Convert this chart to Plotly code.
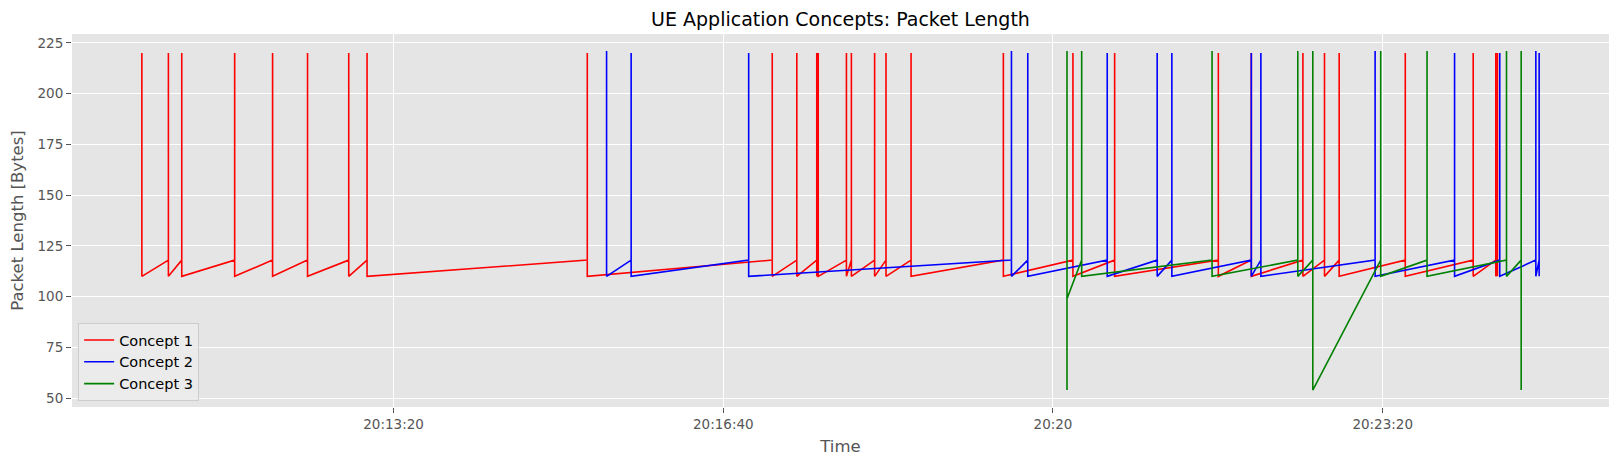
"""UE application concepts: packet length over time (three concepts)."""

import pandas as pd
import plotly.graph_objects as go

# ─── Data ────────────────────────────────────────────────────────────────────
DAY = "2019-05-01 "

RED_TIME = [
    "20:10:47.3", "20:10:47.3",
    "20:11:03.4", "20:11:03.4", "20:11:03.4",
    "20:11:11.5", "20:11:11.5", "20:11:11.5",
    "20:11:43.6", "20:11:43.6", "20:11:43.6",
    "20:12:06.6", "20:12:06.6", "20:12:06.6",
    "20:12:27.8", "20:12:27.8", "20:12:27.8",
    "20:12:52.8", "20:12:52.8", "20:12:52.8",
    "20:13:03.9", "20:13:03.9", "20:13:03.9",
    "20:15:17.5", "20:15:17.5", "20:15:17.5",
    "20:17:09.7", "20:17:09.7", "20:17:09.7",
    "20:17:24.6", "20:17:24.6", "20:17:24.6",
    "20:17:36.7", "20:17:36.7", "20:17:36.7",
    "20:17:37.6", "20:17:37.6", "20:17:37.6",
    "20:17:54.7", "20:17:54.7", "20:17:54.7",
    "20:17:57.7", "20:17:57.7", "20:17:57.7",
    "20:18:11.8", "20:18:11.8", "20:18:11.8",
    "20:18:18.7", "20:18:18.7", "20:18:18.7",
    "20:18:33.9", "20:18:33.9", "20:18:33.9",
    "20:19:29.9", "20:19:29.9", "20:19:29.9",
    "20:20:12.1", "20:20:12.1", "20:20:12.1",
    "20:20:37.4", "20:20:37.4", "20:20:37.4",
    "20:21:40.3", "20:21:40.3", "20:21:40.3",
    "20:22:00.3", "20:22:00.3", "20:22:00.3",
    "20:22:31.6", "20:22:31.6", "20:22:31.6",
    "20:22:44.7", "20:22:44.7", "20:22:44.7",
    "20:22:53.6", "20:22:53.6", "20:22:53.6",
    "20:23:33.7", "20:23:33.7", "20:23:33.7",
    "20:24:14.9", "20:24:14.9", "20:24:14.9",
    "20:24:28.6", "20:24:28.6", "20:24:28.6",
    "20:24:29.6", "20:24:29.6", "20:24:29.6",
    "20:24:42.1", "20:24:42.1", "20:24:42.1",
]
RED_LEN = [220, 110] + [118, 220, 110] * 29

BLUE_TIME = [
    "20:15:29.2", "20:15:29.2",
    "20:15:44.1", "20:15:44.1", "20:15:44.1",
    "20:16:55.4", "20:16:55.4", "20:16:55.4",
    "20:19:34.8", "20:19:34.8", "20:19:34.8",
    "20:19:44.7", "20:19:44.7", "20:19:44.7",
    "20:20:32.9", "20:20:32.9", "20:20:32.9",
    "20:21:03.2", "20:21:03.2", "20:21:03.2",
    "20:21:12.1", "20:21:12.1", "20:21:12.1",
    "20:22:00.3", "20:22:00.3", "20:22:00.3",
    "20:22:06.1", "20:22:06.1", "20:22:06.1",
    "20:23:15.4", "20:23:15.4", "20:23:15.4",
    "20:24:03.6", "20:24:03.6", "20:24:03.6",
    "20:24:31.0", "20:24:31.0", "20:24:31.0",
    "20:24:52.9", "20:24:52.9", "20:24:52.9",
    "20:24:54.9", "20:24:54.9", "20:24:54.9",
]
BLUE_LEN = [
    221, 110,
    118, 220, 110,
    118, 220, 110,
    118, 221, 110,
    118, 220, 110,
    118, 220, 110,
    118, 220, 110,
    118, 220, 110,
    118, 220, 110,
    118, 220, 110,
    118, 221, 110,
    118, 220, 110,
    118, 220, 110,
    118, 221, 110,
    118, 220, 110,
]

GREEN_TIME = [
    "20:20:08.5", "20:20:08.5", "20:20:08.5",
    "20:20:17.4", "20:20:17.4", "20:20:17.4",
    "20:21:36.5", "20:21:36.5", "20:21:36.5",
    "20:22:28.5", "20:22:28.5", "20:22:28.5",
    "20:22:37.6", "20:22:37.6", "20:22:37.6",
    "20:23:18.8", "20:23:18.8", "20:23:18.8",
    "20:23:46.9", "20:23:46.9", "20:23:46.9",
    "20:24:35.1", "20:24:35.1", "20:24:35.1",
    "20:24:44.0", "20:24:44.0", "20:24:44.0",
]
GREEN_LEN = [
    221, 54, 99,
    118, 221, 110,
    118, 221, 110,
    118, 221, 110,
    118, 221, 54,
    118, 221, 110,
    118, 221, 110,
    118, 221, 110,
    118, 221, 54,
]

X_TICKS = ["20:13:20", "20:16:40", "20:20:00", "20:23:20"]
X_TICK_TEXT = ["20:13:20", "20:16:40", "20:20", "20:23:20"]
Y_TICKS = [50, 75, 100, 125, 150, 175, 200, 225]

SERIES = [
    ("Concept 1", RED_TIME, RED_LEN, "#FF0000"),
    ("Concept 2", BLUE_TIME, BLUE_LEN, "#0000FF"),
    ("Concept 3", GREEN_TIME, GREEN_LEN, "#008000"),
]

FONT = "DejaVu Sans"
TEXT_GREY = "#555555"

fig = go.Figure()
all_t = []
all_v = []
for name, times, lens, color in SERIES:
    t = pd.to_datetime([DAY + s for s in times])
    all_t.extend(t)
    all_v.extend(lens)
    fig.add_trace(
        go.Scatter(
            x=t,
            y=lens,
            mode="lines",
            line=dict(color=color, width=1.6),
            name=name,
        )
    )

# matplotlib-style 5% margins around the data
t_min, t_max = min(all_t), max(all_t)
pad_t = (t_max - t_min) * 0.05
v_min, v_max = min(all_v), max(all_v)
pad_v = (v_max - v_min) * 0.05

# the page body keeps its default 8px margin, so the figure is 16px smaller
fig.update_layout(
    width=1604,
    height=450,
    margin=dict(l=64, r=3, t=26, b=51, autoexpand=False),
    paper_bgcolor="white",
    plot_bgcolor="#E5E5E5",
    font=dict(family=FONT, color=TEXT_GREY, size=13.5),
    title=dict(
        text="UE Application Concepts: Packet Length",
        x=0.5,
        xref="paper",
        xanchor="center",
        y=0.975,
        yanchor="middle",
        automargin=False,
        font=dict(family=FONT, size=19, color="black"),
    ),
    showlegend=True,
    legend=dict(
        x=0.004,
        y=0.016,
        xanchor="left",
        yanchor="bottom",
        bgcolor="rgba(235,235,235,0.9)",
        bordercolor="#CCCCCC",
        borderwidth=1,
        font=dict(family=FONT, size=14.5, color="black"),
        itemwidth=30,
        tracegroupgap=0,
    ),
    xaxis=dict(
        title=dict(text="Time", font=dict(size=16.5, color=TEXT_GREY), standoff=9),
        automargin=False,
        range=[t_min - pad_t, t_max + pad_t],
        tickvals=[pd.Timestamp(DAY + s) for s in X_TICKS],
        ticktext=X_TICK_TEXT,
        showgrid=True,
        gridcolor="white",
        gridwidth=1,
        zeroline=False,
        ticks="outside",
        ticklen=5,
        tickcolor=TEXT_GREY,
        tickfont=dict(size=13.5, color=TEXT_GREY),
        showline=False,
    ),
    yaxis=dict(
        title=dict(text="Packet Length [Bytes]", font=dict(size=16.5, color=TEXT_GREY), standoff=11),
        automargin=False,
        range=[v_min - pad_v, v_max + pad_v],
        tickvals=Y_TICKS,
        showgrid=True,
        gridcolor="white",
        gridwidth=1,
        zeroline=False,
        ticks="outside",
        ticklen=5,
        tickcolor=TEXT_GREY,
        tickfont=dict(size=13.5, color=TEXT_GREY),
        showline=False,
    ),
)

fig.write_html("out.html")
